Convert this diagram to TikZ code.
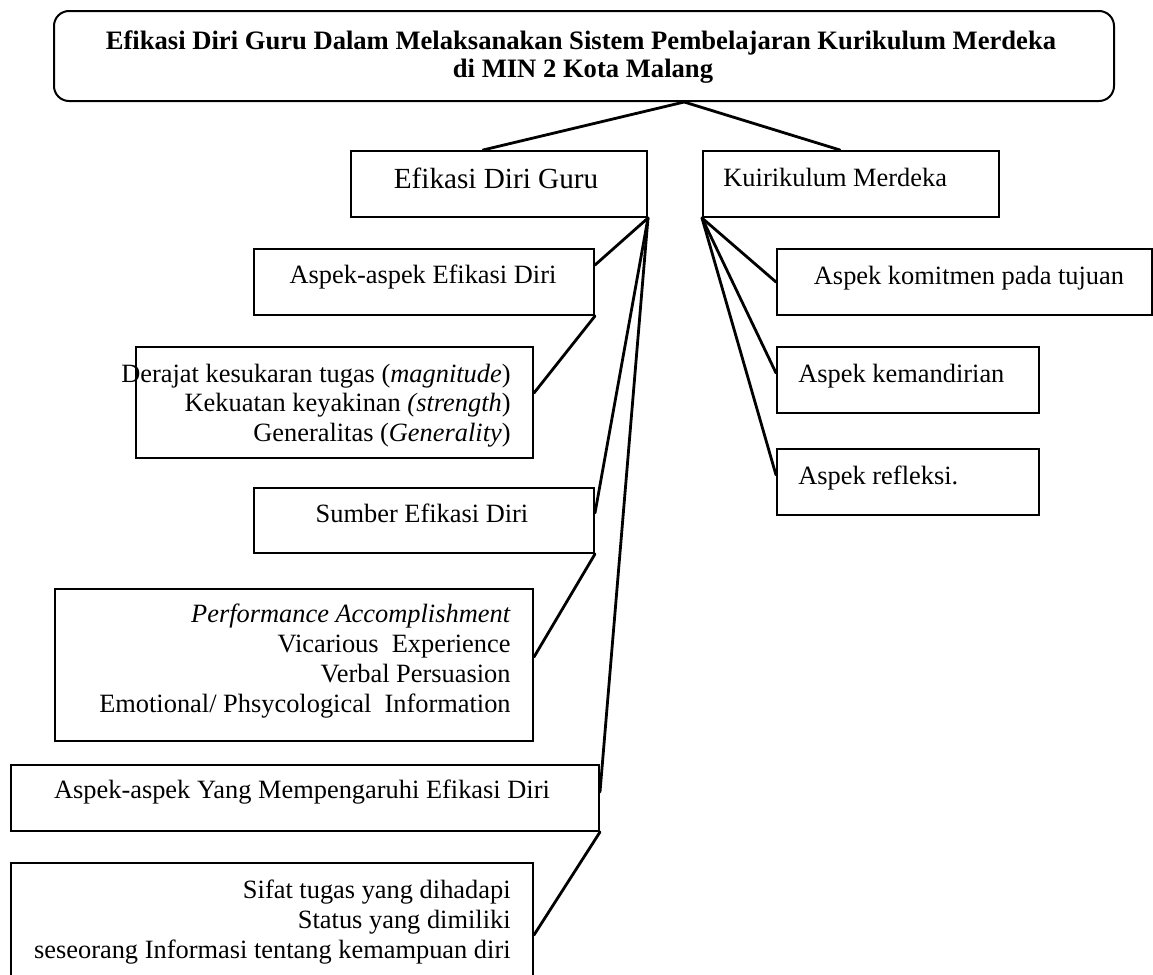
\documentclass[tikz,border=0pt]{standalone}
\usepackage{fontspec}
\setmainfont{Liberation Serif}
\usetikzlibrary{calc}
\begin{document}
\begin{tikzpicture}[x=0.5pt,y=-0.5pt,
  box/.style={draw, line width=1pt, inner sep=0pt, anchor=north west},
  conn/.style={line width=1.4pt, line cap=round},
  txt/.style={font=\fontsize{13.2}{15}\selectfont, inner sep=0pt},
  ttl/.style={font=\bfseries\fontsize{13.3}{14.5}\selectfont, inner sep=0pt, anchor=base},
]
\useasboundingbox (0,0) rectangle (1153,975);
\clip (0,0) rectangle (1153,975);

% boxes
\node[box, rounded corners=7.5pt, minimum width=530pt, minimum height=45pt] (top) at (53,10) {};
\node[box, minimum width=148pt, minimum height=33pt] (efg) at (350,150) {};
\node[box, minimum width=148pt, minimum height=33pt] (kur) at (702,150) {};
\node[box, minimum width=170pt, minimum height=33pt] (asp1) at (253,248) {};
\node[box, minimum width=198.5pt, minimum height=55.5pt] (der) at (135,346) {};
\node[box, minimum width=170pt, minimum height=32.5pt] (sum) at (253,487) {};
\node[box, minimum width=239pt, minimum height=76pt] (perf) at (54,588) {};
\node[box, minimum width=294pt, minimum height=33pt] (yang) at (10,764) {};
\node[box, minimum width=261pt, minimum height=65pt] (sifat) at (10,862) {};
\node[box, minimum width=187.5pt, minimum height=33pt] (komit) at (776,248) {};
\node[box, minimum width=131pt, minimum height=33pt] (kem) at (776,346) {};
\node[box, minimum width=131pt, minimum height=33pt] (refl) at (776,448) {};

% texts
\node[ttl] (t1) at (581,49) {Efikasi Diri Guru Dalam Melaksanakan Sistem Pembelajaran Kurikulum Merdeka};
\node[ttl] (t2) at (583,77) {di MIN 2 Kota Malang};
\node[txt, anchor=base, font=\fontsize{14.6}{16}\selectfont] (efgt) at (496,188) {Efikasi Diri Guru};
\node[txt, anchor=base west] (kurt) at (723,186) {Kuirikulum Merdeka};
\node[txt, anchor=base] (asp1t) at (423,283) {Aspek-aspek Efikasi Diri};
\node[txt, anchor=base east] (der1) at (511,382) {Derajat kesukaran tugas (\textit{magnitude})};
\node[txt, anchor=base east] (der2) at (511,411.5) {Kekuatan keyakinan \textit{(strength})};
\node[txt, anchor=base east] (der3) at (511,441) {Generalitas (\textit{Generality})};
\node[txt, anchor=base] (sumt) at (422,522) {Sumber Efikasi Diri};
\node[txt, anchor=base east] (perf1) at (511,622) {\textit{Performance Accomplishment}};
\node[txt, anchor=base east] (perf2) at (511,652) {Vicarious\ \ Experience};
\node[txt, anchor=base east] (perf3) at (511,682) {Verbal Persuasion};
\node[txt, anchor=base east] (perf4) at (511,712) {Emotional/ Phsycological\ \ Information};
\node[txt, anchor=base] (yangt) at (302,798) {Aspek-aspek Yang Mempengaruhi Efikasi Diri};
\node[txt, anchor=base east] (sif1) at (511,898) {Sifat tugas yang dihadapi};
\node[txt, anchor=base east] (sif2) at (511,928) {Status yang dimiliki};
\node[txt, anchor=base east] (sif3) at (511,958) {seseorang Informasi tentang kemampuan diri};
\node[txt, anchor=base] (komitt) at (969,284) {Aspek komitmen pada tujuan};
\node[txt, anchor=base west] (kemt) at (798,382) {Aspek kemandirian};
\node[txt, anchor=base west] (reflt) at (798,484) {Aspek refleksi.};

% connectors
\coordinate (apex) at ($(top.south west)!0.5943!(top.south east)$);
\draw[conn] (apex) -- ($(efg.north west)+(133,0)$);
\draw[conn] (apex) -- ($(kur.north west)+(138,0)$);
\draw[conn] (efg.south east) -- ($(asp1.north east)+(0,17)$);
\draw[conn] (efg.south east) -- ($(sum.north east)+(0,26)$);
\draw[conn] (efg.south east) -- ($(yang.north east)+(0,28)$);
\draw[conn] (asp1.south east) -- ($(der.north east)+(0,47)$);
\draw[conn] (sum.south east) -- ($(perf.north east)+(0,69)$);
\draw[conn] (yang.south east) -- ($(sifat.north east)+(0,73)$);
\draw[conn] (kur.south west) -- (komit.west);
\draw[conn] (kur.south west) -- ($(kem.north west)+(0,27)$);
\draw[conn] (kur.south west) -- ($(refl.north west)+(0,27)$);
\end{tikzpicture}
\end{document}
